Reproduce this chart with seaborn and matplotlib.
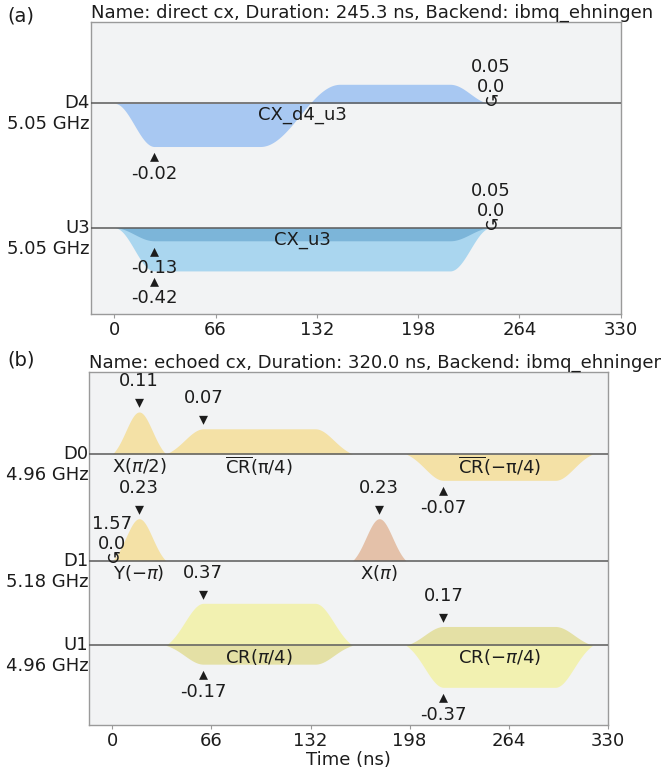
import numpy as np
import pandas as pd
import matplotlib
matplotlib.use("Agg")
import matplotlib.pyplot as plt
import matplotlib.transforms as mtransforms
import seaborn as sns

# ---------------------------------------------------------------- data
TICKS = [0, 66, 132, 198, 264, 330]

# panel (a): direct cx
A_TITLE = "Name: direct cx, Duration: 245.3 ns, Backend: ibmq_ehningen"
A_CHANNELS = ["D4", "U3"]
A_FREQS = ["5.05 GHz", "5.05 GHz"]
# waveform key points (time in ns, amplitude)
D4_NAME = "CX_d4_u3"
D4_T = [0.0, 26.0, 95.0, 147.0, 218.7, 245.3]
D4_RE = [0.0, -0.02, -0.02, 0.0088, 0.0088, 0.0]
D4_IM = [0.0, 0.0, 0.0, 0.0, 0.0, 0.0]
U3_NAME = "CX_u3"
U3_T = [0.0, 26.0, 218.7, 245.3]
U3_RE = [0.0, -0.42, -0.42, 0.0]
U3_IM = [0.0, -0.127, -0.127, 0.0]
A_FRAME_CH = ["D4", "U3"]
A_FRAME_T = [245.3, 245.3]
A_FRAME_PHASE = ["0.05", "0.05"]
A_FRAME_FREQ = ["0.0", "0.0"]

# panel (b): echoed cx
B_TITLE = "Name: echoed cx, Duration: 320.0 ns, Backend: ibmq_ehningen"
B_CHANNELS = ["D0", "D1", "U1"]
B_FREQS = ["4.96 GHz", "5.18 GHz", "4.96 GHz"]
# gaussian pulses
G_CH = ["D0", "D1", "D1"]
G_T0 = [0.0, 0.0, 160.0]
G_DUR = [35.6, 35.6, 35.6]
G_AMP = [0.11, 0.23, 0.23]
G_LABEL = [r"X($\pi$/2)", r"Y($-\pi$)", r"X($\pi$)"]
# gaussian-square pulses
S_CH = ["D0", "D0", "U1", "U1"]
S_T0 = [35.6, 195.6, 35.6, 195.6]
S_DUR = [124.4, 124.4, 124.4, 124.4]
S_RAMP = [25.0, 25.0, 25.0, 25.0]
S_RE = [0.066, -0.069, 0.37, -0.37]
S_IM = [0.0, 0.0, -0.166, 0.166]
S_LABEL = [r"$\overline{\rm CR}$(π/4)", r"$\overline{\rm CR}$(−π/4)",
           r"CR($\pi$/4)", r"CR($-\pi$/4)"]
B_FRAME_CH = ["D1"]
B_FRAME_T = [0.0]
B_FRAME_PHASE = ["1.57"]
B_FRAME_FREQ = ["0.0"]

# ---------------------------------------------------------------- style
sns.set_theme(style="white")
plt.rcParams["font.family"] = ["DejaVu Sans"]
plt.rcParams["mathtext.fontset"] = "dejavusans"
FS = 13
BG = "#f2f3f4"
TXT = "#1c1c1c"
SPINE = "#9a9a9a"
BASE = "#5a5a5a"
C_D4 = "#a8c8f2"
C_U3_RE = "#aad6ef"
C_U3_IM = "#7cb5d9"
C_D_GOLD = "#f4e1a6"
C_D_SALMON = "#e4c1a9"
C_U1_RE = "#f2f1b1"
C_U1_IM = "#e4e0a5"

W, H = 661, 769
fig = plt.figure(figsize=(W / 100, H / 100), dpi=100)


def box(l, t, r, b):
    return [l / W, 1 - b / H, (r - l) / W, (b - t) / H]


axA = fig.add_axes(box(90.7, 22.3, 620.7, 314))
axB = fig.add_axes(box(89.3, 372.3, 607.7, 725))

XLIM = (-15.4, 330)
A_UNIT = 43.2  # px per normalised amplitude
B_UNIT = 42.0
A_OFF = {"D4": 0.0, "U3": -2.880}
B_OFF = {"D0": 0.0, "D1": -2.540, "U1": -4.555}
axA.set_ylim(-4.877, 1.875)
axB.set_ylim(-6.452, 1.945)

t = np.linspace(0, 330, 6601)


def keyshape(T, V):
    y = np.zeros_like(t)
    for i in range(len(T) - 1):
        m = (t >= T[i]) & (t <= T[i + 1])
        s = (t[m] - T[i]) / (T[i + 1] - T[i])
        y[m] = V[i] + (V[i + 1] - V[i]) * (1 - np.cos(np.pi * s)) / 2
    return y


def gauss(t0, dur, amp):
    c = t0 + dur / 2
    sig = dur / 4
    g0 = np.exp(-(dur / 2) ** 2 / (2 * sig ** 2))
    y = (np.exp(-(t - c) ** 2 / (2 * sig ** 2)) - g0) / (1 - g0)
    y[(t < t0) | (t > t0 + dur)] = 0
    return amp * np.clip(y, 0, None)


def edge(s):
    # lifted gaussian edge, 0 -> 1
    g0 = np.exp(-2.0)
    return (np.exp(-((s - 1) * 2) ** 2 / 2) - g0) / (1 - g0)


def gsq(t0, dur, ramp, amp):
    y = np.zeros_like(t)
    m1 = (t >= t0) & (t < t0 + ramp)
    y[m1] = edge((t[m1] - t0) / ramp)
    m2 = (t >= t0 + ramp) & (t <= t0 + dur - ramp)
    y[m2] = 1.0
    m3 = (t > t0 + dur - ramp) & (t <= t0 + dur)
    y[m3] = edge((t0 + dur - t[m3]) / ramp)
    return amp * y


def pt(px):
    return px * 0.72


def setup(ax, offs, chans, freqs, title):
    ax.set_facecolor(BG)
    ax.set_xlim(*XLIM)
    ax.set_xticks(TICKS)
    ax.set_xticklabels([str(v) for v in TICKS])
    ax.set_yticks([])
    for sp in ax.spines.values():
        sp.set_color(SPINE)
        sp.set_linewidth(1.0)
    ax.tick_params(axis="x", direction="out", length=3, width=0.8,
                   color=SPINE, labelsize=FS, labelcolor=TXT, pad=2,
                   bottom=True)
    trans = mtransforms.blended_transform_factory(ax.transAxes, ax.transData)
    for ch, fq in zip(chans, freqs):
        y0 = offs[ch]
        sns.lineplot(x=list(XLIM), y=[y0, y0], ax=ax, color=BASE, lw=1.1,
                     zorder=5)
        ax.annotate(ch, xy=(0, y0), xycoords=trans, xytext=(pt(-1), 0),
                    textcoords="offset points", ha="right", va="center",
                    fontsize=FS, color=TXT, annotation_clip=False)
        ax.annotate(fq, xy=(0, y0), xycoords=trans, xytext=(pt(-1), pt(-21)),
                    textcoords="offset points", ha="right", va="center",
                    fontsize=FS, color=TXT, annotation_clip=False)
    ax.annotate(title, xy=(0, 1), xycoords="axes fraction",
                xytext=(0, pt(9)), textcoords="offset points",
                ha="left", va="center", fontsize=FS, color=TXT,
                annotation_clip=False)


def txt(ax, x, y, s, dy_px, size=FS):
    ax.annotate(s, xy=(x, y), xytext=(0, pt(dy_px)), textcoords="offset points",
                ha="center", va="center", fontsize=size, color=TXT, zorder=10)


def annotate_max(ax, y, y0, scale):
    i = int(np.argmax(np.abs(y)))
    v = y[i]
    if abs(v) <= 0.01:
        return
    yy = y0 + v * scale
    if v > 0:
        txt(ax, t[i], yy, "\u25BE", 9.5, size=FS)
        txt(ax, t[i], yy, f"{v:.2f}", 30.5)
    else:
        txt(ax, t[i], yy, "\u25B4", -10, size=FS)
        txt(ax, t[i], yy, f"{v:.2f}", -27.5)


def frame(ax, tt, y0, ph, fq):
    txt(ax, tt, y0, "\u21BA", 1.8)
    txt(ax, tt, y0, fq, 16.8)
    txt(ax, tt, y0, ph, 36.5)


# ---------------------------------------------------------------- panel (a)
setup(axA, A_OFF, A_CHANNELS, A_FREQS, A_TITLE)
waves_a = [
    ("D4", D4_NAME, keyshape(D4_T, D4_RE), keyshape(D4_T, D4_IM), C_D4, C_D4, D4_T),
    ("U3", U3_NAME, keyshape(U3_T, U3_RE), keyshape(U3_T, U3_IM), C_U3_RE, C_U3_IM, U3_T),
]
for ch, name, re, im, cre, cim, T in waves_a:
    y0 = A_OFF[ch]
    sc = 1.0 / max(np.abs(re).max(), np.abs(im).max())
    axA.fill_between(t, y0, y0 + re * sc, color=cre, lw=0, zorder=2)
    axA.fill_between(t, y0, y0 + im * sc, color=cim, lw=0, zorder=3)
    annotate_max(axA, re, y0, sc)
    annotate_max(axA, im, y0, sc)
    txt(axA, (T[0] + T[-1]) / 2, y0, name, -12)
for ch, tt, ph, fq in zip(A_FRAME_CH, A_FRAME_T, A_FRAME_PHASE, A_FRAME_FREQ):
    frame(axA, tt, A_OFF[ch], ph, fq)

# ---------------------------------------------------------------- panel (b)
setup(axB, B_OFF, B_CHANNELS, B_FREQS, B_TITLE)
pulses = []
g_colors = [C_D_GOLD, C_D_GOLD, C_D_SALMON]
for ch, t0, d, a, lab, c in zip(G_CH, G_T0, G_DUR, G_AMP, G_LABEL, g_colors):
    pulses.append((ch, gauss(t0, d, a), np.zeros_like(t), c, c, lab, t0 + d / 2))
s_re_col = [C_D_GOLD, C_D_GOLD, C_U1_RE, C_U1_RE]
s_im_col = [C_D_GOLD, C_D_GOLD, C_U1_IM, C_U1_IM]
for ch, t0, d, r, are, aim, lab, cre, cim in zip(S_CH, S_T0, S_DUR, S_RAMP, S_RE,
                                                S_IM, S_LABEL, s_re_col, s_im_col):
    pulses.append((ch, gsq(t0, d, r, are), gsq(t0, d, r, aim), cre, cim, lab, t0 + d / 2))

chan_max = {}
for ch, re, im, *_ in pulses:
    chan_max[ch] = max(chan_max.get(ch, 0), np.abs(re).max(), np.abs(im).max())

for ch, re, im, cre, cim, lab, tc in pulses:
    y0 = B_OFF[ch]
    sc = 1.0 / chan_max[ch]
    axB.fill_between(t, y0, y0 + re * sc, where=np.abs(re) > 0, color=cre, lw=0, zorder=2)
    if np.abs(im).max() > 0:
        axB.fill_between(t, y0, y0 + im * sc, where=np.abs(im) > 0, color=cim, lw=0, zorder=3)
    annotate_max(axB, re, y0, sc)
    annotate_max(axB, im, y0, sc)
    txt(axB, tc, y0, lab, -12)
for ch, tt, ph, fq in zip(B_FRAME_CH, B_FRAME_T, B_FRAME_PHASE, B_FRAME_FREQ):
    frame(axB, tt, B_OFF[ch], ph, fq)

axB.set_xlabel("Time (ns)", fontsize=FS, color=TXT, labelpad=1)
axA.set_xlabel("")

fig.text(7 / W, 1 - 16 / H, "(a)", ha="left", va="center", fontsize=14, color=TXT)
fig.text(7 / W, 1 - 360 / H, "(b)", ha="left", va="center", fontsize=14, color=TXT)

fig.savefig("out.png", dpi=100, facecolor="white")
